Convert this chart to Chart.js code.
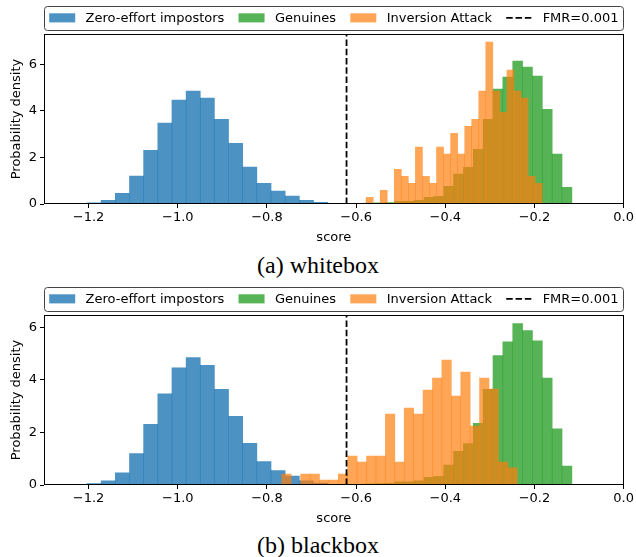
<!DOCTYPE html>
<html>
<head>
<meta charset="utf-8">
<script src="https://cdn.jsdelivr.net/npm/chart.js@4.4.0/dist/chart.umd.min.js"></script>
<style>
  body { margin: 0; background: #fff; }
  #page { position: relative; width: 636px; height: 557px; }
  .panel { position: absolute; left: 0; width: 636px; height: 250px; }
  .caption {
    position: absolute; left: 0; width: 636px; text-align: center;
    font-family: "Liberation Serif", serif; font-size: 24px; line-height: 28px; color: #000;
  }
</style>
</head>
<body>
<div id="page">
  <div class="panel" style="top:0"><canvas id="chart-a"></canvas></div>
  <div class="caption" style="top:251px">(a) whitebox</div>
  <div class="panel" style="top:281px"><canvas id="chart-b"></canvas></div>
  <div class="caption" style="top:531px">(b) blackbox</div>
</div>
<script>
// axis setup
const xTicks = [-1.2, -1.0, -0.8, -0.6, -0.4, -0.2, 0.0];
const yTicks = [0, 2, 4, 6];
const fmrThreshold = -0.6215;
const legendLabels = ["Zero-effort impostors", "Genuines", "Inversion Attack", "FMR=0.001"];

// zero-effort impostors (same in both panels), bin centres + density
const impostorBins = [-1.1876, -1.1559, -1.1242, -1.0924, -1.0607, -1.0289, -0.9972, -0.9654,
  -0.9337, -0.9020, -0.8702, -0.8385, -0.8067, -0.7750, -0.7432, -0.7115, -0.6797, -0.6480, -0.6163];
const impostorDensity = [0.05, 0.16, 0.46, 1.2, 2.31, 3.47, 4.46, 4.85, 4.55, 3.64, 2.61, 1.59,
  0.89, 0.55, 0.34, 0.16, 0.07, 0.02, 0.02];

// genuines (same in both panels)
const genuineBins = [-0.6799, -0.6578, -0.6357, -0.6136, -0.5915, -0.5694, -0.5473, -0.5252,
  -0.5031, -0.4809, -0.4588, -0.4367, -0.4146, -0.3925, -0.3704, -0.3483, -0.3262, -0.3041,
  -0.2820, -0.2599, -0.2377, -0.2156, -0.1935, -0.1714, -0.1493, -0.1272, -0.1051];
const genuineDensity = [0.02, 0.02, 0.03, 0.02, 0.03, 0.04, 0.05, 0.06, 0.12, 0.12, 0.16, 0.29,
  0.33, 0.76, 1.28, 1.58, 2.35, 3.64, 4.93, 5.45, 6.14, 5.88, 5.49, 4.07, 2.14, 0.72, 0.03];

// inversion attack, whitebox
const whiteboxBins = [-0.5697, -0.5539, -0.5381, -0.5223, -0.5065, -0.4908, -0.4750, -0.4592,
  -0.4434, -0.4276, -0.4118, -0.3960, -0.3802, -0.3644, -0.3486, -0.3329, -0.3171, -0.3013,
  -0.2855, -0.2697, -0.2539, -0.2381, -0.2223, -0.2065, -0.1907];
const whiteboxDensity = [0.29, 0, 0.59, 0, 1.49, 1.19, 0.89, 2.44, 1.19, 0.89, 2.44, 2.14, 3.04,
  2.14, 3.34, 3.64, 4.85, 6.95, 4.85, 3.94, 5.75, 4.85, 4.55, 1.19, 0.89];

// inversion attack, blackbox
const blackboxBins = [-0.7561, -0.7350, -0.7139, -0.6928, -0.6717, -0.6505, -0.6294, -0.6083,
  -0.5872, -0.5661, -0.5449, -0.5238, -0.5027, -0.4816, -0.4604, -0.4393, -0.4182, -0.3971,
  -0.3760, -0.3548, -0.3337, -0.3126, -0.2915, -0.2704, -0.2493];
const blackboxDensity = [0.42, 0, 0.42, 0.42, 0.19, 0.19, 0.42, 1.10, 0.87, 1.10, 1.10, 2.70, 0.87,
  2.93, 2.70, 3.61, 4.07, 4.75, 3.38, 4.30, 2.24, 4.07, 3.65, 0.87, 0.65];

const X_MIN = -1.3, X_MAX = 0;
const colors = ["rgba(31,119,180,0.8)", "rgba(44,160,44,0.8)", "rgba(255,127,14,0.7)", "#000"];
const FONT = { family: "DejaVu Sans", size: 13 };
const DASH = [6.5, 2.8];

const minus = (v, d) => (v < 0 ? "\u2212" : "") + Math.abs(v).toFixed(d);

// spines + matplotlib style legend (mode="expand") above the axes
const framePlugin = {
  id: "frame",
  afterDatasetsDraw(chart) {
    const { ctx, chartArea: a } = chart;
    ctx.save();
    ctx.strokeStyle = "#000";
    ctx.lineWidth = 1;
    const l = Math.round(a.left) + 0.5, t = Math.round(a.top) + 0.5;
    const r = Math.round(a.right) - 0.5, b = Math.round(a.bottom) - 0.5;
    ctx.strokeRect(l, t, r - l, b - t);
    ctx.restore();
  },
  afterDraw(chart) {
    const { ctx, chartArea: a } = chart;
    const fs = FONT.size;
    const pad = 0.4 * fs, handleW = 2 * fs, gap = 0.8 * fs;
    const boxBottom = a.top - 0.02 * (a.bottom - a.top);
    const boxH = 23.5;
    const boxTop = boxBottom - boxH;
    ctx.save();
    ctx.font = fs + 'px "DejaVu Sans"';
    // frame
    ctx.beginPath();
    ctx.roundRect(Math.round(a.left) + 0.5, Math.round(boxTop) - 0.5,
      Math.round(a.right - a.left) - 1, Math.round(boxH), 3);
    ctx.fillStyle = "rgba(255,255,255,0.8)";
    ctx.fill();
    ctx.strokeStyle = "#444";
    ctx.lineWidth = 1;
    ctx.stroke();

    const widths = legendLabels.map(t => ctx.measureText(t).width);
    const used = widths.reduce((s, w) => s + handleW + gap + w, 0);
    const sep = (a.right - a.left - 2 * pad - used) / (legendLabels.length - 1);
    const cy = boxTop + boxH / 2 - 1;
    let x = a.left + pad;
    legendLabels.forEach((label, i) => {
      if (i < 3) {
        ctx.fillStyle = colors[i];
        ctx.fillRect(x, cy - 0.35 * fs, handleW, 0.7 * fs);
      } else {
        ctx.strokeStyle = "#000";
        ctx.lineWidth = 1.8;
        ctx.setLineDash(DASH);
        ctx.beginPath();
        ctx.moveTo(x, cy);
        ctx.lineTo(x + handleW, cy);
        ctx.stroke();
        ctx.setLineDash([]);
      }
      ctx.fillStyle = "#000";
      ctx.textBaseline = "middle";
      ctx.fillText(label, x + handleW + gap, cy + 1);
      x += handleW + gap + widths[i] + sep;
    });
    ctx.restore();
  }
};

function hiddenX() {
  return {
    type: "linear", min: X_MIN, max: X_MAX, display: false, offset: false,
    afterBuildTicks: s => { s.ticks = [{ value: X_MIN }]; }
  };
}

function histSet(label, bins, dens, color, axis, order) {
  return {
    type: "bar",
    label,
    data: bins.map((b, i) => ({ x: b, y: dens[i] })),
    xAxisID: axis,
    backgroundColor: color,
    borderWidth: 0,
    grouped: false,
    barPercentage: 1,
    categoryPercentage: 1,
    order
  };
}

function makeChart(id, attackBins, attackDensity, yMax) {
  return new Chart(document.getElementById(id), {
    type: "bar",
    data: {
      datasets: [
        histSet(legendLabels[0], impostorBins, impostorDensity, colors[0], "xb0", 3),
        histSet(legendLabels[1], genuineBins, genuineDensity, colors[1], "xb1", 2),
        histSet(legendLabels[2], attackBins, attackDensity, colors[2], "xb2", 1),
        {
          type: "line",
          label: legendLabels[3],
          data: [{ x: fmrThreshold, y: 0 }, { x: fmrThreshold, y: yMax }],
          xAxisID: "x",
          borderColor: "#000",
          borderWidth: 1.8,
          borderDash: DASH,
          pointRadius: 0,
          fill: false,
          order: 0
        }
      ]
    },
    options: {
      responsive: true,
      maintainAspectRatio: false,
      animation: false,
      events: [],
      layout: { padding: { top: 34, right: 9, left: 0, bottom: 0 } },
      plugins: { legend: { display: false }, tooltip: { enabled: false } },
      scales: {
        x: {
          type: "linear", min: X_MIN, max: X_MAX, offset: false,
          afterBuildTicks: s => { s.ticks = xTicks.map(v => ({ value: v })); },
          afterFit: s => { s.height = 46; },
          border: { display: false },
          grid: { offset: false, drawOnChartArea: false, drawTicks: true, tickLength: 4, color: "#000" },
          ticks: { color: "#000", font: FONT, padding: 2, maxRotation: 0, autoSkip: false,
            callback: v => minus(v, 1) },
          title: { display: true, text: "score", color: "#000", font: FONT, padding: { top: 0, bottom: 5 } }
        },
        xb0: hiddenX(), xb1: hiddenX(), xb2: hiddenX(),
        y: {
          type: "linear", min: 0, max: yMax,
          afterBuildTicks: s => { s.ticks = yTicks.map(v => ({ value: v })); },
          afterFit: s => { s.width = 44; },
          border: { display: false },
          grid: { drawOnChartArea: false, drawTicks: true, tickLength: 4, color: "#000" },
          ticks: { color: "#000", font: FONT, padding: 3, callback: v => minus(v, 0) },
          title: { display: true, text: "Probability density", color: "#000", font: FONT, padding: { top: 9 } }
        }
      }
    },
    plugins: [framePlugin]
  });
}

makeChart("chart-a", whiteboxBins, whiteboxDensity, 7.3);
makeChart("chart-b", blackboxBins, blackboxDensity, 6.47);
</script>
</body>
</html>
